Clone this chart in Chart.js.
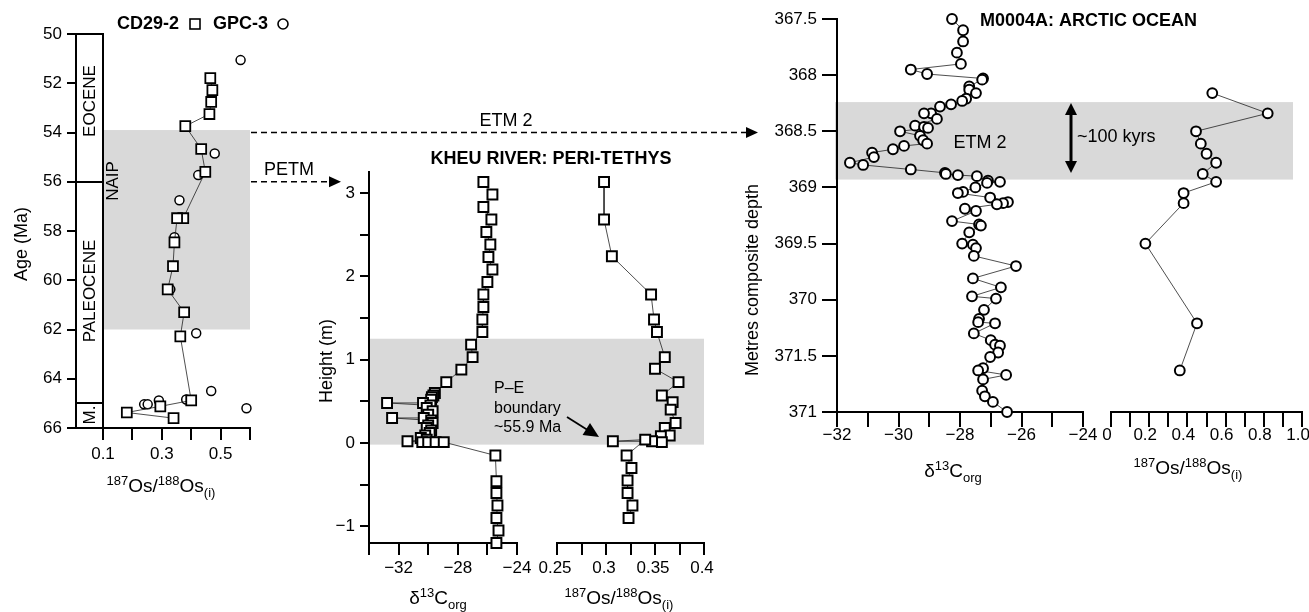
<!DOCTYPE html>
<html>
<head>
<meta charset="utf-8">
<script src="https://cdn.jsdelivr.net/npm/chart.js@4.4.0/dist/chart.umd.min.js"></script>
<style>
html, body { margin: 0; padding: 0; background: #fff; }
#fig { position: relative; width: 1309px; height: 612px; background: #fff; }
#fig canvas { position: absolute; left: 0; top: 0; }
</style>
</head>
<body>
<div id="fig">
  <canvas id="ageChart" width="1309" height="612"></canvas>
  <canvas id="kheuC13Chart" width="1309" height="612"></canvas>
  <canvas id="kheuOsChart" width="1309" height="612"></canvas>
  <canvas id="arcticC13Chart" width="1309" height="612"></canvas>
  <canvas id="arcticOsChart" width="1309" height="612"></canvas>
</div>
<script>
// --- Left panel: CD29-2 / GPC-3 osmium record vs age ---
const ageTicks = [50, 52, 54, 56, 58, 60, 62, 64, 66];
const epochBounds = [50, 56, 65, 66];
const leftOsTicks = [0.1, 0.2, 0.3, 0.4, 0.5, 0.6];
const leftOsLabels = ['0.1', '', '0.3', '', '0.5', ''];
const naipAges = [53.9, 62];

const cd29Age = [51.79, 52.28, 52.76, 53.25, 53.74, 54.67, 55.6, 57.48, 57.48, 58.46, 59.43, 60.37, 61.3, 62.28, 64.88, 65.12, 65.37, 65.6];
const cd29Os = [0.465, 0.472, 0.468, 0.462, 0.38, 0.434, 0.448, 0.373, 0.352, 0.343, 0.338, 0.32, 0.376, 0.363, 0.4, 0.295, 0.181, 0.34];

const gpc3Age = [51.06, 54.85, 55.73, 56.75, 58.25, 60.37, 62.15, 64.5, 64.84, 64.88, 65.04, 65.04, 65.2];
const gpc3Os = [0.568, 0.48, 0.424, 0.36, 0.343, 0.329, 0.417, 0.468, 0.383, 0.29, 0.24, 0.252, 0.588];

// --- Kheu River: Peri-Tethys ---
const kheuHeightTicks = [-1, -0.5, 0, 0.5, 1, 1.5, 2, 2.5, 3];
const kheuHeightLabels = ['\u22121', '', '0', '', '1', '', '2', '', '3'];
const kheuC13Ticks = [-34, -32, -30, -28, -26, -24];
const kheuC13Labels = ['', '\u221232', '', '\u221228', '', '\u221224'];
const kheuOsTicks = [0.25, 0.275, 0.3, 0.325, 0.35, 0.375, 0.4];
const kheuOsLabels = ['0.25', '', '0.3', '', '0.35', '', '0.4'];
const petmHeights = [-0.02, 1.25];

const kheuC13Height = [3.13, 2.98, 2.83, 2.68, 2.53, 2.38, 2.23, 2.08, 1.93, 1.78, 1.63, 1.48, 1.33, 1.18, 1.03, 0.88, 0.73,
  0.6, 0.57, 0.55, 0.52, 0.48, 0.48, 0.45, 0.42, 0.38, 0.34, 0.3, 0.3, 0.27, 0.24, 0.21, 0.18, 0.15, 0.12, 0.09, 0.06, 0.04,
  0.02, 0.01, 0.01, 0.01, 0.01, -0.15, -0.46, -0.6, -0.75, -0.9, -1.05, -1.2];
const kheuC13Value = [-26.27, -25.66, -26.27, -25.73, -26.07, -25.8, -25.93, -25.66, -26.0, -26.27, -26.27, -26.34, -26.34, -27.1, -27.0, -27.76, -28.78,
  -29.55, -29.65, -29.75, -29.8, -30.35, -32.78, -29.85, -30.1, -29.7, -30.0, -30.3, -32.44, -29.8, -29.7, -30.0, -30.1, -29.8, -29.9, -30.2, -30.5, -30.1,
  -31.4, -30.4, -30.0, -29.5, -28.95, -25.46, -25.39, -25.39, -25.32, -25.39, -25.25, -25.39];

const kheuOsHeight = [3.13, 2.68, 2.24, 1.78, 1.48, 1.33, 1.03, 0.89, 0.73, 0.57, 0.49, 0.4, 0.24, 0.18, 0.09, 0.08, 0.01, 0.02, 0.02, 0.04,
  -0.15, -0.3, -0.45, -0.6, -0.75, -0.9];
const kheuOsValue = [0.298, 0.298, 0.306, 0.346, 0.349, 0.352, 0.36, 0.35, 0.374, 0.357, 0.368, 0.366, 0.371, 0.36, 0.365, 0.356, 0.357, 0.347, 0.307, 0.34,
  0.321, 0.326, 0.322, 0.322, 0.327, 0.323];

// --- M0004A: Arctic Ocean ---
const depthTicks = [367.5, 368, 368.5, 369, 369.5, 370, 370.5, 371];
const depthLabels = ['367.5', '368', '368.5', '369', '369.5', '370', '371.5', '371'];
const arcticC13Ticks = [-32, -31, -30, -29, -28, -27, -26, -25, -24];
const arcticC13Labels = ['\u221232', '', '\u221230', '', '\u221228', '', '\u221226', '', '\u221224'];
const arcticOsTicks = [0, 0.1, 0.2, 0.3, 0.4, 0.5, 0.6, 0.7, 0.8, 0.9, 1.0];
const arcticOsLabels = ['0', '', '0.2', '', '0.4', '', '0.6', '', '0.8', '', '1.0'];
const etm2Depths = [368.24, 368.93];

const arcticC13Depth = [367.5, 367.6, 367.7, 367.8, 367.9, 367.95, 367.99, 368.03, 368.04, 368.1, 368.13, 368.16, 368.21, 368.23, 368.26, 368.28,
  368.34, 368.34, 368.39, 368.45, 368.46, 368.47, 368.5, 368.54, 368.58, 368.61, 368.63, 368.66, 368.69, 368.73, 368.78, 368.8,
  368.84, 368.87, 368.88, 368.89, 368.9, 368.94, 368.95, 368.96, 369.0, 369.04, 369.05, 369.09, 369.13, 369.14, 369.15, 369.19,
  369.21, 369.3, 369.33, 369.34, 369.4, 369.5, 369.51, 369.54, 369.61, 369.7, 369.81, 369.89, 369.97, 369.99, 370.09, 370.17,
  370.2, 370.21, 370.3, 370.36, 370.4, 370.41, 370.47, 370.51, 370.61, 370.63, 370.67, 370.71, 370.81, 370.86, 370.91, 371.0];
const arcticC13Value = [-28.26, -27.9, -27.9, -28.1, -27.97, -29.6, -29.07, -27.25, -27.28, -27.7, -27.7, -27.48, -27.8, -27.93, -28.29, -28.65,
  -28.94, -29.17, -28.75, -29.46, -29.17, -29.04, -29.95, -29.3, -29.2, -29.07, -29.82, -30.18, -30.86, -30.8, -31.58, -31.15,
  -29.6, -28.49, -28.46, -28.07, -27.45, -27.09, -26.7, -27.12, -27.5, -27.9, -28.07, -27.02, -26.44, -26.6, -26.8, -27.84,
  -27.48, -28.26, -27.38, -27.32, -27.7, -27.93, -27.58, -27.48, -27.55, -26.18, -27.58, -26.67, -27.61, -26.83, -27.22, -27.38,
  -27.41, -26.86, -27.55, -27.0, -26.86, -26.7, -26.76, -27.02, -27.25, -27.41, -26.5, -27.25, -27.28, -27.19, -26.93, -26.47];

const arcticOsDepth = [368.16, 368.34, 368.5, 368.61, 368.7, 368.78, 368.88, 368.95, 369.05, 369.14, 369.5, 370.21, 370.63];
const arcticOsValue = [0.53, 0.82, 0.445, 0.47, 0.5, 0.55, 0.48, 0.55, 0.38, 0.38, 0.18, 0.45, 0.36];

// --- helpers ---
const FONT = '"Liberation Sans", Arial, Helvetica, sans-serif';
const W = 1309, H = 612;
Chart.defaults.font.family = FONT;
Chart.defaults.color = '#000';

const pts = (xs, ys) => xs.map((x, i) => ({ x: x, y: ys[i] }));

function zeroPad(s) {
    s.paddingLeft = 0; s.paddingRight = 0; s.paddingTop = 0; s.paddingBottom = 0;
}

function vAxis(o) {
    return {
        type: 'linear', position: 'left', reverse: !!o.reverse,
        min: o.min, max: o.max, weight: o.weight || 0,
        afterBuildTicks: s => { s.ticks = o.ticks.map(v => ({ value: v })); },
        afterFit: s => { s.width = o.width; zeroPad(s); },
        grid: { display: true, drawOnChartArea: false, drawTicks: true, tickLength: o.tickLen, color: '#000', lineWidth: 2 },
        border: { display: true, color: '#000', width: 2 },
        ticks: {
            display: !!o.labels, autoSkip: false, padding: o.pad, color: '#000',
            font: { family: FONT, size: 17, lineHeight: 1 },
            callback: (v, i) => (o.labels ? o.labels[i] : '')
        }
    };
}

function hAxis(o) {
    return {
        type: 'linear', position: 'bottom', min: o.min, max: o.max,
        afterBuildTicks: s => { s.ticks = o.ticks.map(v => ({ value: v })); },
        afterFit: s => { s.height = 40; zeroPad(s); },
        grid: { display: true, drawOnChartArea: false, drawTicks: true, tickLength: o.tickLen, color: '#000', lineWidth: 2 },
        border: { display: true, color: '#000', width: 2 },
        ticks: {
            autoSkip: false, maxRotation: 0, minRotation: 0, padding: o.pad, color: '#000',
            labelOffset: o.shift || 0,
            font: { family: FONT, size: 17, lineHeight: 1 },
            callback: (v, i) => o.labels[i]
        }
    };
}

function hiddenY(min, max, reverse) {
    return { type: 'linear', display: false, min: min, max: max, reverse: !!reverse };
}

function txt(ctx, s, x, y, opt) {
    opt = opt || {};
    ctx.save();
    ctx.translate(x, y);
    ctx.rotate(opt.rot || 0);
    ctx.font = (opt.bold ? 'bold ' : '') + (opt.size || 18) + 'px ' + FONT;
    ctx.fillStyle = '#000';
    ctx.textAlign = opt.align || 'center';
    ctx.textBaseline = 'middle';
    ctx.fillText(s, 0, 0);
    ctx.restore();
}

// text with superscripts / subscripts, centred on (cx, cy)
function rich(ctx, parts, cx, cy, size) {
    const small = Math.round(size * 0.68);
    const fontOf = k => (k === 'n' ? size : small) + 'px ' + FONT;
    ctx.save();
    ctx.fillStyle = '#000';
    ctx.textAlign = 'left';
    ctx.textBaseline = 'alphabetic';
    let w = 0;
    parts.forEach(p => { ctx.font = fontOf(p[1]); w += ctx.measureText(p[0]).width; });
    let x = cx - w / 2;
    const base = cy + size * 0.36;
    parts.forEach(p => {
        ctx.font = fontOf(p[1]);
        const dy = p[1] === 'sup' ? -size * 0.38 : (p[1] === 'sub' ? size * 0.25 : 0);
        ctx.fillText(p[0], x, base + dy);
        x += ctx.measureText(p[0]).width;
    });
    ctx.restore();
}

const osTitle = [['187', 'sup'], ['Os/', 'n'], ['188', 'sup'], ['Os', 'n'], ['(i)', 'sub']];
const c13Title = [['\u03b4', 'n'], ['13', 'sup'], ['C', 'n'], ['org', 'sub']];

function arrowHead(ctx, x, y, ang, len, half) {
    ctx.save();
    ctx.translate(x, y);
    ctx.rotate(ang);
    ctx.beginPath();
    ctx.moveTo(0, 0);
    ctx.lineTo(-len, -half);
    ctx.lineTo(-len, half);
    ctx.closePath();
    ctx.fillStyle = '#000';
    ctx.fill();
    ctx.restore();
}

function dashedArrow(ctx, x1, x2, y) {
    ctx.save();
    ctx.strokeStyle = '#000';
    ctx.lineWidth = 1.6;
    ctx.setLineDash([6, 4]);
    ctx.beginPath();
    ctx.moveTo(x1, y);
    ctx.lineTo(x2 - 10, y);
    ctx.stroke();
    ctx.restore();
    arrowHead(ctx, x2, y, 0, 12, 5.5);
}

function shade(ctx, x1, x2, y1, y2) {
    ctx.save();
    ctx.fillStyle = '#d9d9d9';
    ctx.fillRect(x1, Math.min(y1, y2), x2 - x1, Math.abs(y2 - y1));
    ctx.restore();
}

const baseOptions = (padding, scales) => ({
    responsive: false,
    animation: false,
    devicePixelRatio: 1,
    events: [],
    layout: { padding: padding },
    plugins: { legend: { display: false }, tooltip: { enabled: false } },
    scales: scales
});

const squareLine = (data) => ({
    data: data, showLine: true, borderColor: '#222', borderWidth: 0.8,
    pointStyle: 'rect', pointRadius: 7, pointBorderWidth: 2,
    pointBackgroundColor: '#fff', pointBorderColor: '#000', clip: false
});

const circleLine = (data) => ({
    data: data, showLine: true, borderColor: '#222', borderWidth: 0.8,
    pointStyle: 'circle', pointRadius: 4.9, pointBorderWidth: 2,
    pointBackgroundColor: '#fff', pointBorderColor: '#000', clip: false
});

// layout of the plot areas (pixels)
const KHEU_OS_RIGHT = 704;
const ARCTIC_SHADE_RIGHT = 1293;

// --- Chart A: age panel ---
const ageChart = new Chart(document.getElementById('ageChart'), {
    type: 'scatter',
    data: {
        datasets: [
            {
                data: pts(cd29Os, cd29Age), showLine: true, borderColor: '#222', borderWidth: 0.8,
                pointStyle: 'rect', pointRadius: 7, pointBorderWidth: 1.8,
                pointBackgroundColor: '#fff', pointBorderColor: '#000', clip: false
            },
            {
                data: pts(gpc3Os, gpc3Age), showLine: false,
                pointStyle: 'circle', pointRadius: 4.5, pointBorderWidth: 1.5,
                pointBackgroundColor: '#fff', pointBorderColor: '#000', clip: false
            }
        ]
    },
    options: baseOptions({ left: 0, top: 34, right: W - 250, bottom: H - 428 - 40 }, {
        x: hAxis({ min: 0.1, max: 0.6, ticks: leftOsTicks, labels: leftOsLabels, tickLen: 12, pad: 6 }),
        y: vAxis({ min: 50, max: 66, reverse: true, ticks: ageTicks, labels: ageTicks.map(String), tickLen: 9, pad: 5, width: 76, weight: 1 }),
        epoch: vAxis({ min: 50, max: 66, reverse: true, ticks: epochBounds, labels: null, tickLen: 27, pad: 0, width: 27, weight: 0 })
    }),
    plugins: [{
        id: 'agePanel',
        beforeDraw(chart) {
            const { ctx, chartArea, scales } = chart;
            shade(ctx, chartArea.left, chartArea.right, scales.y.getPixelForValue(naipAges[0]), scales.y.getPixelForValue(naipAges[1]));
        },
        afterDraw(chart) {
            const { ctx, scales } = chart;
            // legend
            txt(ctx, 'CD29-2', 117, 24, { bold: true, align: 'left' });
            ctx.save();
            ctx.strokeStyle = '#000'; ctx.lineWidth = 1.6;
            ctx.strokeRect(190, 19, 10, 10);
            ctx.beginPath(); ctx.arc(283, 24, 5, 0, Math.PI * 2); ctx.stroke();
            ctx.restore();
            txt(ctx, 'GPC-3', 213, 24, { bold: true, align: 'left' });
            // epochs
            txt(ctx, 'EOCENE', 90, 101, { size: 17, rot: -Math.PI / 2 });
            txt(ctx, 'PALEOCENE', 90, 291, { size: 17, rot: -Math.PI / 2 });
            txt(ctx, 'M.', 90, 415, { size: 17, rot: -Math.PI / 2 });
            txt(ctx, 'NAIP', 113, 181, { size: 17, rot: -Math.PI / 2 });
            // axis titles
            txt(ctx, 'Age (Ma)', 22, 244, { size: 18, rot: -Math.PI / 2 });
            rich(ctx, osTitle, 161, 485, 19);
            // links to the other sections
            const yEtm = scales.y.getPixelForValue(54);
            const yPetm = scales.y.getPixelForValue(56);
            dashedArrow(ctx, 251, 758, yEtm);
            txt(ctx, 'ETM 2', 506, yEtm - 11, { size: 18 });
            dashedArrow(ctx, 251, 341, yPetm);
            txt(ctx, 'PETM', 289, yPetm - 12, { size: 18 });
        }
    }]
});

// --- Chart B: Kheu River d13C ---
const kheuC13Chart = new Chart(document.getElementById('kheuC13Chart'), {
    type: 'scatter',
    data: { datasets: [squareLine(pts(kheuC13Value, kheuC13Height))] },
    options: baseOptions({ left: 309, top: 172, right: W - 517, bottom: H - 543 - 40 }, {
        x: hAxis({ min: -34, max: -24, ticks: kheuC13Ticks, labels: kheuC13Labels, tickLen: 12, pad: 5 }),
        y: vAxis({ min: -1.2, max: 3.25, ticks: kheuHeightTicks, labels: kheuHeightLabels, tickLen: 9, pad: 5, width: 60 })
    }),
    plugins: [{
        id: 'kheuC13Panel',
        beforeDraw(chart) {
            const { ctx, chartArea, scales } = chart;
            shade(ctx, chartArea.left, KHEU_OS_RIGHT, scales.y.getPixelForValue(petmHeights[0]), scales.y.getPixelForValue(petmHeights[1]));
        },
        afterDraw(chart) {
            const ctx = chart.ctx;
            txt(ctx, 'KHEU RIVER: PERI-TETHYS', 551, 159, { bold: true, size: 18 });
            txt(ctx, 'Height (m)', 327, 361, { size: 18, rot: -Math.PI / 2 });
            rich(ctx, c13Title, 438, 597, 19);
            txt(ctx, 'P\u2013E', 494, 389, { size: 16, align: 'left' });
            txt(ctx, 'boundary', 494, 409, { size: 16, align: 'left' });
            txt(ctx, '~55.9 Ma', 494, 428, { size: 16, align: 'left' });
            const ang = Math.atan2(437 - 417, 599 - 567);
            ctx.save();
            ctx.strokeStyle = '#000'; ctx.lineWidth = 1.8;
            ctx.beginPath(); ctx.moveTo(567, 417); ctx.lineTo(599 - 12 * Math.cos(ang), 437 - 12 * Math.sin(ang)); ctx.stroke();
            ctx.restore();
            arrowHead(ctx, 599, 437, ang, 15, 7);
        }
    }]
});

// --- Chart C: Kheu River Os ---
const kheuOsChart = new Chart(document.getElementById('kheuOsChart'), {
    type: 'scatter',
    data: { datasets: [squareLine(pts(kheuOsValue, kheuOsHeight))] },
    options: baseOptions({ left: 557, top: 172, right: W - KHEU_OS_RIGHT, bottom: H - 543 - 40 }, {
        x: hAxis({ min: 0.25, max: 0.4, ticks: kheuOsTicks, labels: kheuOsLabels, tickLen: 12, pad: 5, shift: -2 }),
        y: hiddenY(-1.2, 3.25, false)
    }),
    plugins: [{
        id: 'kheuOsPanel',
        afterDraw(chart) {
            rich(chart.ctx, osTitle, 619, 597, 19);
        }
    }]
});

// --- Chart D: M0004A d13C ---
const arcticC13Chart = new Chart(document.getElementById('arcticC13Chart'), {
    type: 'scatter',
    data: { datasets: [circleLine(pts(arcticC13Value, arcticC13Depth))] },
    options: baseOptions({ left: 767, top: 19, right: W - 1083, bottom: H - 412 - 40 }, {
        x: hAxis({ min: -32, max: -24, ticks: arcticC13Ticks, labels: arcticC13Labels, tickLen: 15, pad: 0 }),
        y: vAxis({ min: 367.5, max: 371, reverse: true, ticks: depthTicks, labels: depthLabels, tickLen: 15, pad: 5, width: 70 })
    }),
    plugins: [{
        id: 'arcticC13Panel',
        beforeDraw(chart) {
            const { ctx, chartArea, scales } = chart;
            shade(ctx, chartArea.left - 2, ARCTIC_SHADE_RIGHT, scales.y.getPixelForValue(etm2Depths[0]), scales.y.getPixelForValue(etm2Depths[1]));
        },
        afterDraw(chart) {
            const ctx = chart.ctx;
            txt(ctx, 'M0004A: ARCTIC OCEAN', 980, 21, { bold: true, size: 18, align: 'left' });
            txt(ctx, 'Metres composite depth', 753, 280, { size: 18, rot: -Math.PI / 2 });
            rich(ctx, c13Title, 953, 470, 19);
            txt(ctx, 'ETM 2', 980, 143, { size: 18 });
            ctx.save();
            ctx.strokeStyle = '#000'; ctx.lineWidth = 3;
            ctx.beginPath(); ctx.moveTo(1071, 112); ctx.lineTo(1071, 164); ctx.stroke();
            ctx.restore();
            arrowHead(ctx, 1071, 103, -Math.PI / 2, 12, 6);
            arrowHead(ctx, 1071, 173, Math.PI / 2, 12, 6);
            txt(ctx, '~100 kyrs', 1077, 137, { size: 18, align: 'left' });
        }
    }]
});

// --- Chart E: M0004A Os ---
const arcticOsChart = new Chart(document.getElementById('arcticOsChart'), {
    type: 'scatter',
    data: { datasets: [circleLine(pts(arcticOsValue, arcticOsDepth))] },
    options: baseOptions({ left: 1111, top: 19, right: W - 1304, bottom: H - 412 - 40 }, {
        x: hAxis({ min: 0, max: 1, ticks: arcticOsTicks, labels: arcticOsLabels, tickLen: 15, pad: 0, shift: -4 }),
        y: hiddenY(367.5, 371, true)
    }),
    plugins: [{
        id: 'arcticOsPanel',
        afterDraw(chart) {
            rich(chart.ctx, osTitle, 1188, 467, 19);
        }
    }]
});
</script>
</body>
</html>
